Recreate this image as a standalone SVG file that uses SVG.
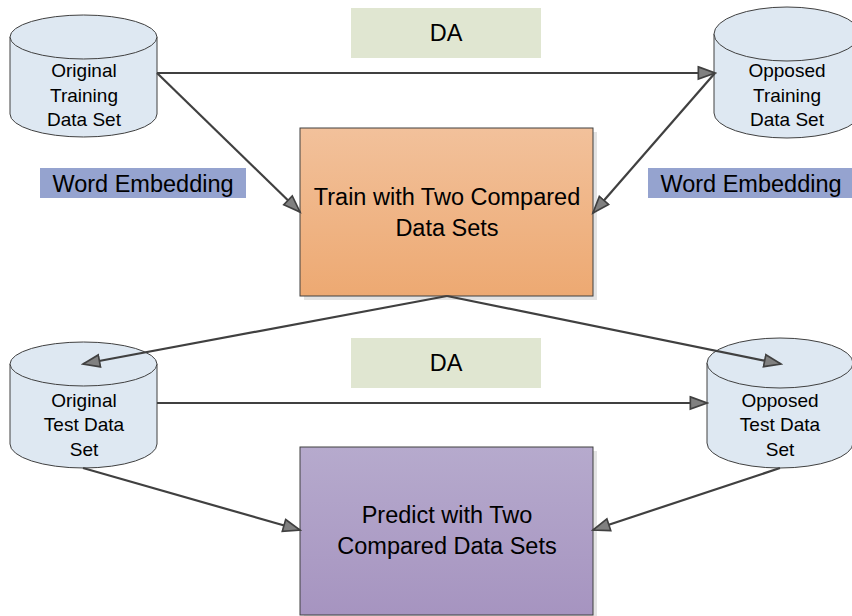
<svg xmlns="http://www.w3.org/2000/svg" width="852" height="616" viewBox="0 0 852 616">
  <defs>
    <linearGradient id="gTrain" x1="0" y1="0" x2="0" y2="1">
      <stop offset="0" stop-color="#f2c19b"/>
      <stop offset="1" stop-color="#eda972"/>
    </linearGradient>
    <linearGradient id="gPredict" x1="0" y1="0" x2="0" y2="1">
      <stop offset="0" stop-color="#b6aacd"/>
      <stop offset="1" stop-color="#a694c0"/>
    </linearGradient>
    <marker id="arrow" markerUnits="userSpaceOnUse" markerWidth="20" markerHeight="16" viewBox="-1 -1 18 13" refX="15" refY="5.5" orient="auto">
      <path d="M0,0 L15,5.5 L0,11 Z" fill="#808080" stroke="#404040" stroke-width="1.5" stroke-linejoin="miter"/>
    </marker>
  </defs>
  <style>
    .cyl { fill: #dee8f2; stroke: #404040; stroke-width: 1; }
    .box { stroke: #404040; stroke-width: 1; }
    .shadow { fill: #e3e3e3; }
    .t { font-family: "Liberation Sans", Arial, sans-serif; fill: #000; text-anchor: middle; }
    .ts { font-size: 19px; }
    .tb { font-size: 23.5px; }
    .we { fill: #95a3cf; }
    .da { fill: #e0e6d1; }
    .conn { fill: none; stroke: #404040; stroke-width: 2.2; marker-end: url(#arrow); }
  </style>

  <rect width="852" height="616" fill="#ffffff"/>

  <g id="da-top">
    <rect class="da" x="351" y="8" width="190" height="50"/>
    <text class="t tb" x="446" y="41">DA</text>
  </g>
  <g id="da-bottom">
    <rect class="da" x="351" y="338" width="190" height="50"/>
    <text class="t tb" x="446" y="371">DA</text>
  </g>

  <g id="we-left">
    <rect class="we" x="40" y="168" width="206" height="30"/>
    <text class="t tb" x="143" y="192">Word Embedding</text>
  </g>
  <g id="we-right">
    <rect class="we" x="648" y="168" width="204" height="30"/>
    <text class="t tb" x="751" y="192">Word Embedding</text>
  </g>

  <g id="original-training">
    <path class="cyl" d="M10,37 A73.5,22 0 0 1 157,37 L157,114 A73.5,23 0 0 1 10,114 Z"/>
    <path class="cyl" fill="none" d="M10,37 A73.5,22 0 0 0 157,37"/>
    <text class="t ts" x="84" y="77">Original</text>
    <text class="t ts" x="84" y="102">Training</text>
    <text class="t ts" x="84" y="126">Data Set</text>
  </g>

  <g id="opposed-training">
    <path class="cyl" d="M714,34 A73,27 0 0 1 860,34 L860,113 A73,25 0 0 1 714,113 Z"/>
    <path class="cyl" fill="none" d="M714,34 A73,27 0 0 0 860,34"/>
    <text class="t ts" x="787" y="77">Opposed</text>
    <text class="t ts" x="787" y="102">Training</text>
    <text class="t ts" x="787" y="126">Data Set</text>
  </g>

  <g id="train">
    <rect class="shadow" x="304" y="132" width="293" height="168"/>
    <rect class="box" x="300" y="128" width="293" height="168" fill="url(#gTrain)"/>
    <text class="t tb" x="447" y="205">Train with Two Compared</text>
    <text class="t tb" x="447" y="236">Data Sets</text>
  </g>

  <g id="original-test">
    <path class="cyl" d="M10,364 A73.5,22 0 0 1 157,364 L157,444 A73.5,24 0 0 1 10,444 Z"/>
    <path class="cyl" fill="none" d="M10,364 A73.5,22 0 0 0 157,364"/>
    <text class="t ts" x="84" y="407">Original</text>
    <text class="t ts" x="84" y="431">Test Data</text>
    <text class="t ts" x="84" y="456">Set</text>
  </g>

  <g id="opposed-test">
    <path class="cyl" d="M707,363 A73,25 0 0 1 853,363 L853,443 A73,25 0 0 1 707,443 Z"/>
    <path class="cyl" fill="none" d="M707,363 A73,25 0 0 0 853,363"/>
    <text class="t ts" x="780" y="407">Opposed</text>
    <text class="t ts" x="780" y="431">Test Data</text>
    <text class="t ts" x="780" y="456">Set</text>
  </g>

  <g id="predict">
    <rect class="shadow" x="304" y="451" width="293" height="168"/>
    <rect class="box" x="300" y="447" width="293" height="168" fill="url(#gPredict)"/>
    <text class="t tb" x="447" y="523">Predict with Two</text>
    <text class="t tb" x="447" y="554">Compared Data Sets</text>
  </g>

  <g id="connectors">
    <line class="conn" x1="157" y1="73" x2="715" y2="73"/>
    <line class="conn" x1="157" y1="73" x2="300" y2="212"/>
    <line class="conn" x1="715" y1="73" x2="593" y2="213"/>
    <line class="conn" x1="447" y1="296" x2="83" y2="364"/>
    <line class="conn" x1="447" y1="296" x2="781" y2="364"/>
    <line class="conn" x1="157" y1="403" x2="707" y2="403"/>
    <line class="conn" x1="83" y1="468" x2="300" y2="530"/>
    <line class="conn" x1="780" y1="468" x2="593" y2="530"/>
  </g>
</svg>
